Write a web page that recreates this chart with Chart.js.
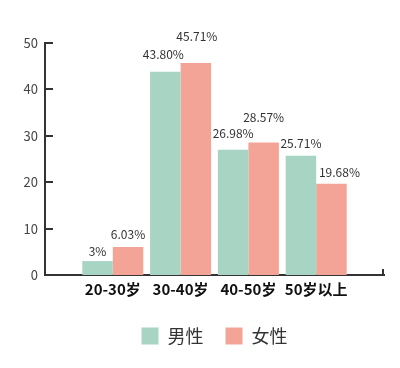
<!DOCTYPE html>
<html><head><meta charset="utf-8">
<script src="https://cdn.jsdelivr.net/npm/chart.js@4/dist/chart.umd.min.js"></script>
<style>html,body{margin:0;padding:0;background:#fff}</style>
</head><body>
<canvas id="c" width="400" height="368"></canvas>
<script>
const categories = ['20-30岁', '30-40岁', '40-50岁', '50岁以上'];
const seriesNames = ['男性', '女性'];
const maleValues = [3, 43.80, 26.98, 25.71];
const femaleValues = [6.03, 45.71, 28.57, 19.68];
const yTicks = [0, 10, 20, 30, 40, 50];

// label placement (style only): gap above bar top and horizontal shift, px
const labelGap = [[5, 13, 12, 8], [8, 22, 20, 7]];
const labelDx = [[0, -2, 0, 0], [0, 1, 0, 8]];

const MALE = 'rgb(168,213,195)';
const FEMALE = 'rgb(244,164,151)';
const FONT = "'Noto Sans CJK SC', 'Noto Sans', sans-serif";

const paddedLabels = [''].concat(categories, ['']);
const pad = arr => [null].concat(arr, [null]);
const fmt = v => (v === Math.round(v) ? String(v) : v.toFixed(2)) + '%';

const overlay = {
  id: 'overlay',
  afterDatasetsDraw(chart) {
    const ctx = chart.ctx;
    ctx.save();
    ctx.font = "12px " + FONT;
    ctx.fillStyle = '#333';
    ctx.textAlign = 'center';
    ctx.textBaseline = 'alphabetic';
    chart.data.datasets.forEach((ds, di) => {
      const meta = chart.getDatasetMeta(di);
      meta.data.forEach((el, i) => {
        const v = ds.data[i];
        if (v === null || v === undefined) return;
        const k = i - 1;
        ctx.fillText(fmt(v), el.x + labelDx[di][k], el.y - labelGap[di][k]);
      });
    });
    ctx.restore();
  },
  afterDraw(chart) {
    const ctx = chart.ctx, y = chart.scales.y, x = chart.scales.x;
    ctx.save();
    ctx.strokeStyle = '#333';
    ctx.lineWidth = 2;
    yTicks.forEach(v => {
      if (v === 0) return;
      const py = Math.round(y.getPixelForValue(v));
      ctx.beginPath();
      ctx.moveTo(y.right, py);
      ctx.lineTo(y.right + 8, py);
      ctx.stroke();
    });
    const bx = x.right - 1;
    ctx.beginPath();
    ctx.moveTo(bx, x.top + 1);
    ctx.lineTo(bx, x.top - 6);
    ctx.stroke();
    ctx.restore();
  }
};

new Chart(document.getElementById('c'), {
  type: 'bar',
  data: {
    labels: paddedLabels,
    datasets: [
      { label: seriesNames[0], data: pad(maleValues), backgroundColor: MALE },
      { label: seriesNames[1], data: pad(femaleValues), backgroundColor: FEMALE }
    ]
  },
  options: {
    responsive: false,
    animation: false,
    devicePixelRatio: 1,
    layout: { padding: { left: 0, right: 16, top: 43, bottom: 13 } },
    datasets: { bar: { categoryPercentage: 0.9, barPercentage: 1 } },
    scales: {
      x: {
        offset: false,
        grid: { display: false, drawTicks: false },
        border: { color: '#333', width: 2 },
        ticks: { color: '#111', font: { family: FONT, size: 15, weight: 'bold' }, padding: 5, autoSkip: false, maxRotation: 0 },
        afterFit: s => { s.height = 30; }
      },
      y: {
        min: 0, max: 50,
        afterBuildTicks: s => { s.ticks = yTicks.map(v => ({ value: v })); },
        grid: { display: false, drawTicks: false },
        border: { color: '#333', width: 2 },
        ticks: { color: '#444', font: { family: FONT, size: 13 }, padding: 7 },
        afterFit: s => { s.width = 45; }
      }
    },
    plugins: {
      legend: {
        position: 'bottom',
        fullSize: false,
        labels: { boxWidth: 17, boxHeight: 17, padding: 22, color: '#333', font: { family: FONT, size: 18 } }
      },
      tooltip: { enabled: false }
    }
  },
  plugins: [overlay]
});
</script>
</body></html>
